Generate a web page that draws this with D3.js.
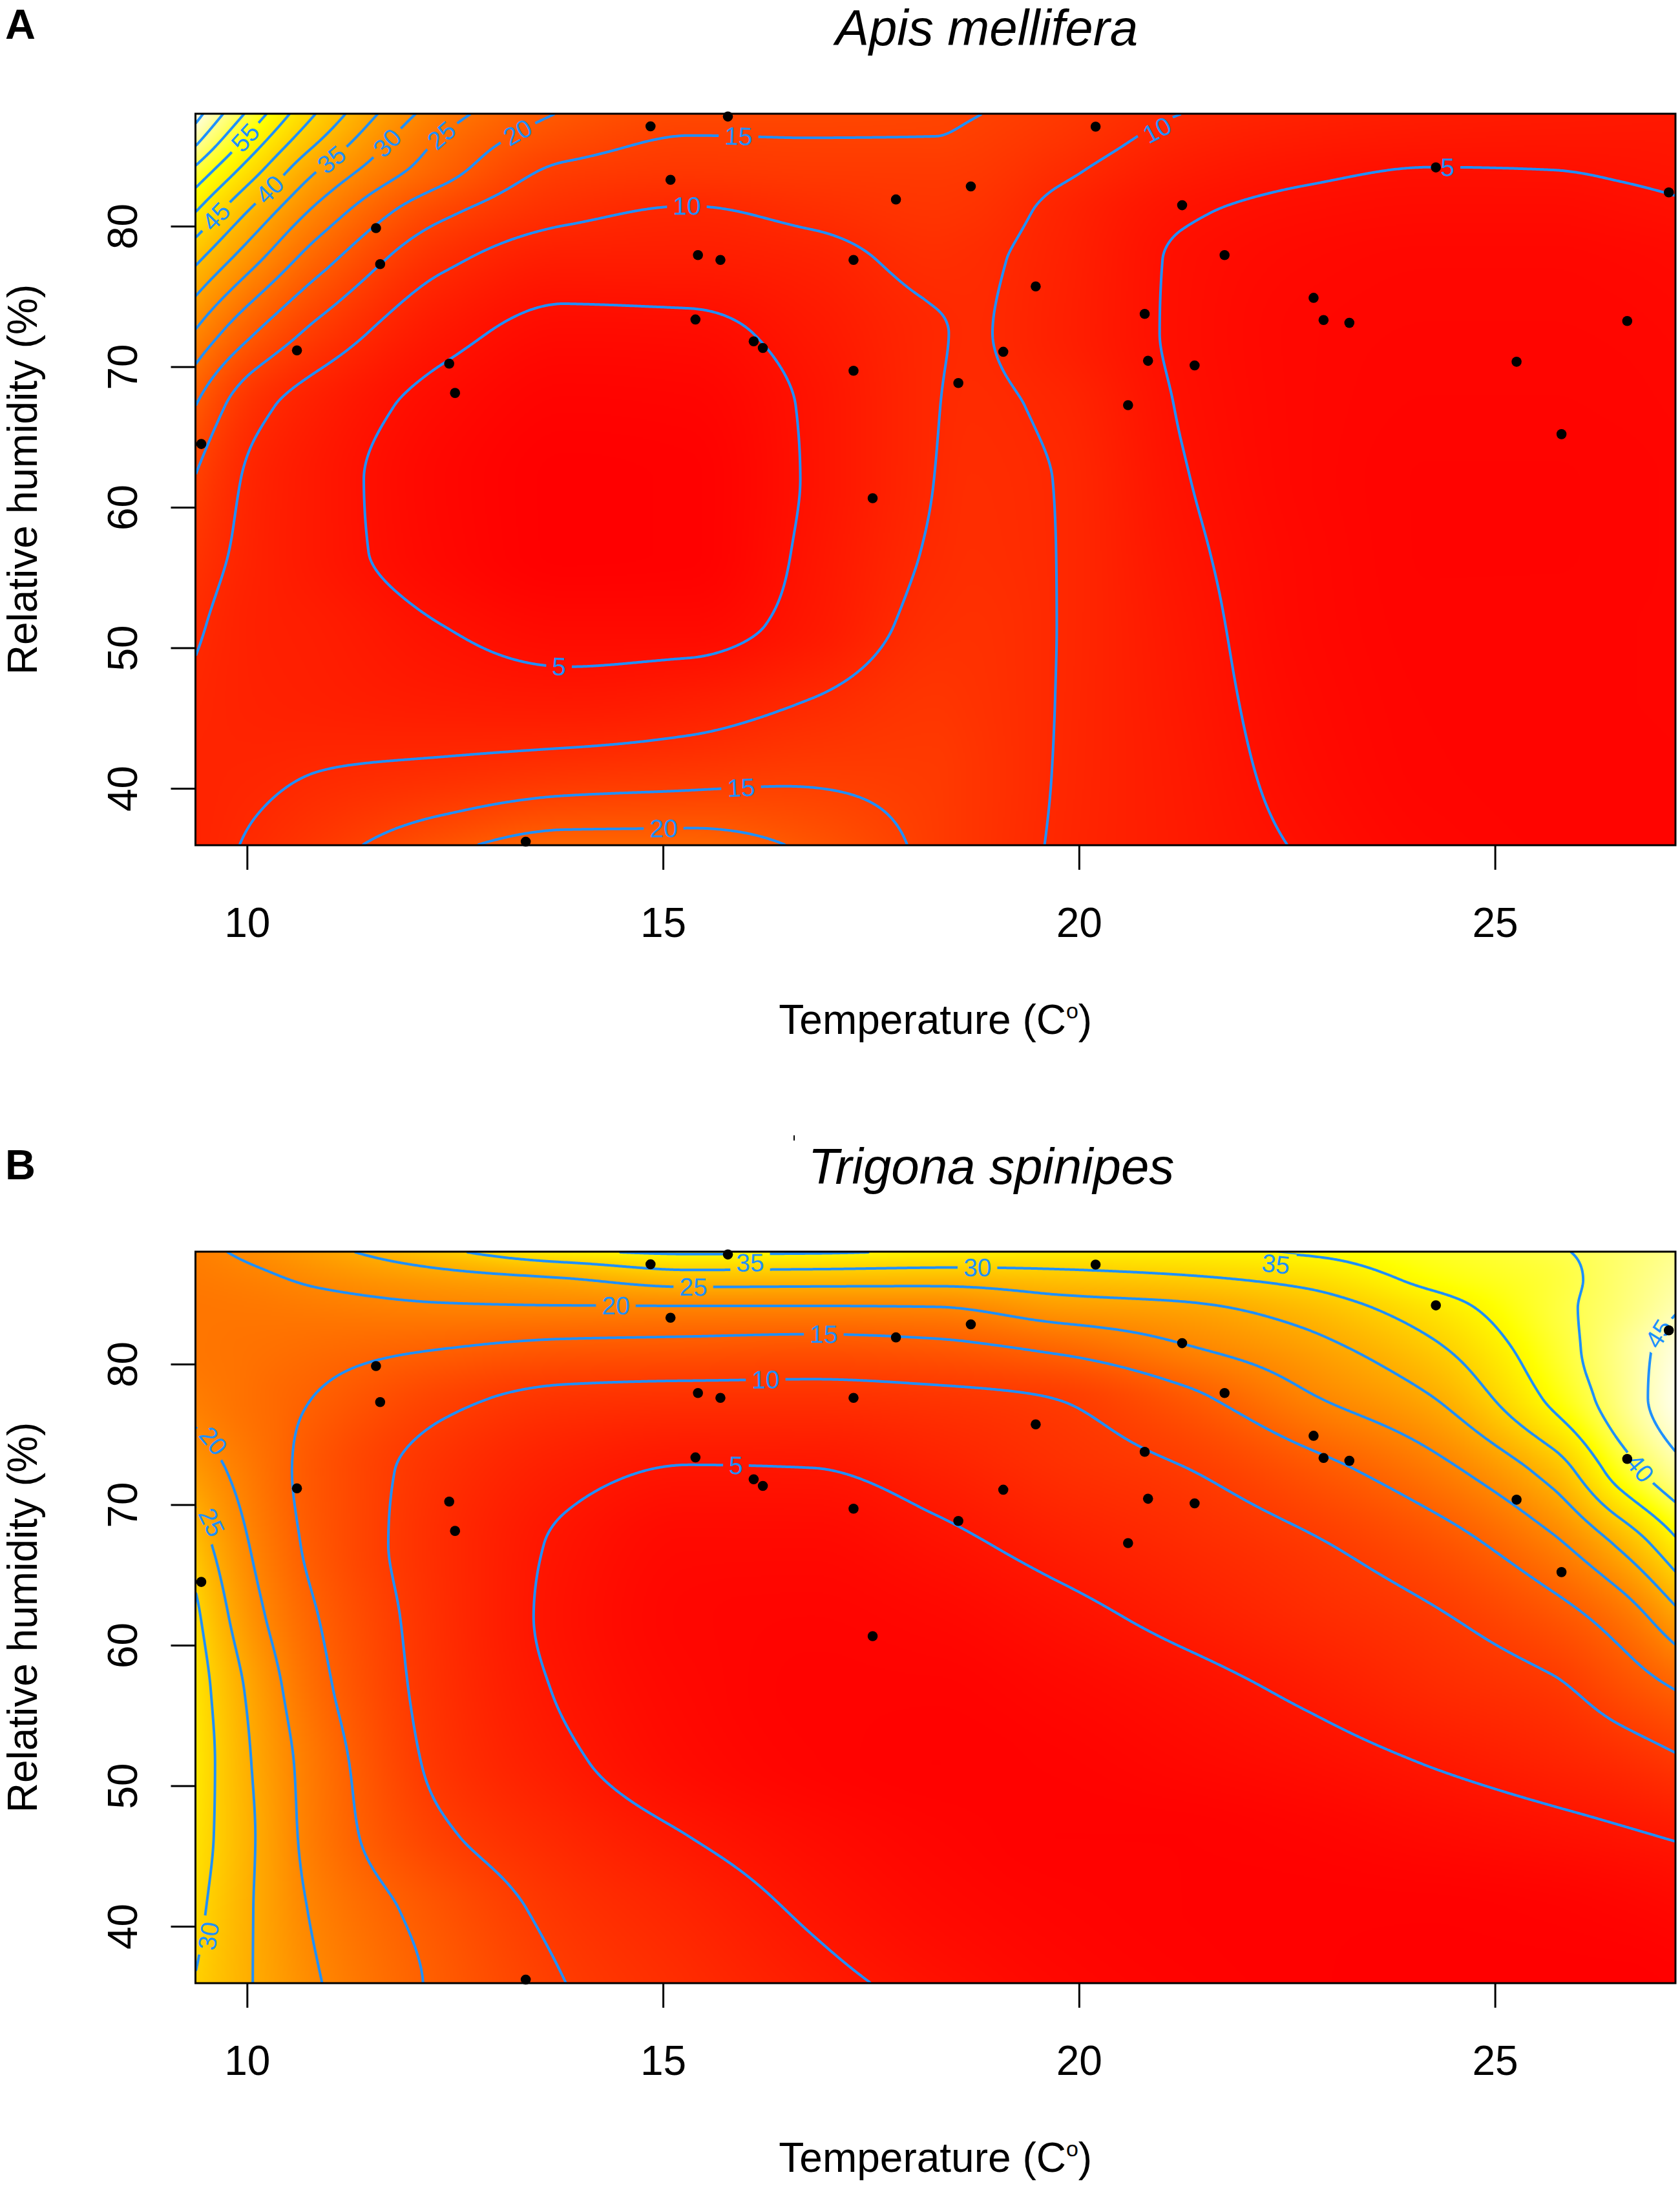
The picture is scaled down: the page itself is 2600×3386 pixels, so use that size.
<!DOCTYPE html>
<html><head><meta charset="utf-8">
<script src="https://cdn.jsdelivr.net/npm/d3@7"></script>
<style>body{margin:0;background:#fff}svg{display:block}</style>
</head><body>
<script>
// ---------- data ----------
const temperature = [14.85, 15.78, 15.09, 17.80, 11.55, 11.60, 15.42, 15.69, 17.29, 10.60, 12.43, 12.50, 15.39, 16.09, 16.20, 17.29, 9.45, 17.52, 13.35, 20.20, 18.70, 21.24, 21.75, 24.29, 27.09, 19.48, 20.79, 19.09, 18.55, 22.94, 22.82, 23.25, 20.83, 21.39, 20.59, 26.59, 25.26, 25.80];
const humidity = [87.1, 87.8, 83.3, 81.9, 79.86, 77.3, 77.94, 77.6, 77.6, 71.16, 70.22, 68.13, 73.36, 71.8, 71.33, 69.71, 64.5, 60.64, 36.2, 87.08, 82.83, 81.49, 77.94, 84.18, 82.4, 75.71, 73.76, 71.06, 68.84, 73.32, 74.9, 73.12, 70.42, 70.09, 67.26, 73.25, 70.35, 65.2];

// grids of the fitted surfaces
const gridTempsApis = [9.38, 10.1, 10.86, 12.35, 13.83, 15.31, 16.79, 18.28, 18.7, 19.76, 21.24, 22.72, 24.21, 25.69, 26.5, 27.17];
const gridTempsTrigona = [9.38, 10.1, 10.86, 12.35, 13.83, 15.31, 16.79, 18.28, 19.76, 21.24, 22.72, 24.21, 25.69, 26.5, 27.17];
const gridHums = [36, 41.2, 46.4, 51.6, 56.8, 62, 67.2, 72.4, 77.6, 81, 84, 86, 88];

const surfaceApis = [
  [8.8, 10.5, 13, 18.5, 22.5, 22.5, 19, 13.8, 12.5, 9.6, 7, 4.7, 3, 2.5, 2.5, 2.5],
  [9, 9.3, 10, 11, 12.2, 13, 14, 13.5, 12.5, 9.8, 6.8, 4, 2.6, 2.4, 2.4, 2.5],
  [9.5, 8.5, 8, 7, 6.5, 7.5, 10, 12.5, 12, 9.9, 6.5, 3.6, 2.5, 2.4, 2.5, 2.6],
  [10.5, 8.3, 7.5, 5, 3.5, 3.5, 6.5, 11.2, 11.5, 9.95, 6.2, 3.3, 2.4, 2.4, 2.5, 2.6],
  [12.3, 8.6, 6.5, 3.2, 1.6, 1.8, 5.8, 10.4, 11, 9.95, 5.7, 3.2, 2.3, 2.3, 2.4, 2.6],
  [14.8, 9.0, 6.5, 3.0, 1.6, 1.8, 5.4, 10.05, 10.8, 9.9, 5.2, 3, 2.3, 2.3, 2.4, 2.6],
  [20, 11.4, 7.8, 3.8, 2.2, 2.4, 5.5, 9.9, 10.5, 9.4, 4.8, 3, 2.5, 2.5, 2.6, 2.8],
  [29.5, 20, 13.5, 6.3, 3.8, 4, 6.5, 9.8, 10.2, 8.2, 4.5, 3, 2.7, 2.7, 2.8, 3],
  [41, 31, 22, 11, 7.5, 7.5, 8.5, 11, 10.7, 8.5, 4.6, 3.4, 3, 3, 3.2, 3.5],
  [50, 38.5, 28.5, 16, 11, 9.6, 11, 12.4, 12, 9.0, 5.4, 4.2, 3.8, 3.8, 4.2, 4.6],
  [59, 46.5, 35, 22, 14.2, 13, 13.5, 13.6, 13.3, 10.8, 7.2, 5.6, 4.9, 5.0, 5.3, 5.6],
  [66, 52, 40, 24.3, 17, 14.6, 14.8, 14.8, 14.3, 12.2, 8.6, 7, 6.2, 6, 6, 6.1],
  [72, 57.5, 44.5, 27.3, 19.6, 16.5, 16.3, 15.7, 15.2, 13.3, 10, 8.5, 7.5, 7, 6.8, 6.5]
];
const surfaceTrigona = [
  [29.8, 24.8, 20.2, 14.2, 10.0, 7.8, 5.8, 4.2, 3.0, 2.4, 2.1, 2.0, 2.0, 2.0, 2.1],
  [31.2, 24.8, 19.2, 13.2, 8.9, 6.7, 4.6, 3.2, 2.5, 2.2, 2.1, 2.1, 2.3, 2.6, 3.0],
  [32.3, 25.0, 18.0, 10.6, 7.2, 5.0, 3.5, 2.6, 2.2, 2.2, 2.5, 3.2, 4.0, 4.6, 5.2],
  [33.0, 24.5, 17.6, 9.0, 5.5, 3.4, 2.5, 2.2, 2.4, 3.0, 3.8, 5.1, 6.6, 7.8, 9.3],
  [32.5, 23.5, 16.2, 8.4, 4.7, 3.0, 2.4, 2.4, 3.0, 4.0, 5.5, 7.5, 9.3, 12.2, 15.0],
  [31.0, 21.2, 15.0, 8.1, 4.3, 2.8, 2.6, 3.0, 4.2, 5.8, 7.6, 9.5, 13.2, 17.2, 23.5],
  [27.5, 19.3, 13.7, 7.9, 4.6, 3.2, 3.2, 4.3, 6.0, 7.6, 9.5, 12.7, 19.0, 25.8, 34.0],
  [22.5, 17.8, 13.3, 8.5, 5.9, 4.8, 4.9, 6.3, 8.2, 9.8, 13.2, 18.1, 27.0, 37.3, 43.5],
  [18.8, 16.8, 14.8, 11.0, 9.0, 8.6, 8.6, 9.1, 10.1, 13.8, 19.4, 24.7, 36.0, 42.4, 47.5],
  [17.8, 17.2, 16.4, 14.9, 13.6, 13.3, 12.9, 13.6, 15.6, 19.3, 23.1, 28.8, 38.0, 42.7, 46.8],
  [17.8, 18.0, 18.5, 19.4, 19.6, 19.6, 19.6, 19.8, 22.7, 24.0, 27.2, 32.7, 38.9, 41.8, 44.7],
  [18.3, 19.2, 20.7, 23.0, 24.6, 27.1, 26.9, 26.7, 27.8, 29.1, 31.3, 36.0, 38.9, 41.5, 43.8],
  [19.0, 21.0, 23.5, 29.0, 34.3, 35.8, 35.6, 34.6, 34.0, 34.3, 35.6, 37.6, 39.6, 41.3, 43.0]
];

const levelsApis = [5, 10, 15, 20, 25, 30, 35, 40, 45, 50, 55, 60, 65, 70];
const levelsTrigona = [5, 10, 15, 20, 25, 30, 35, 40, 45];

// contour labels: [level, temperature, humidity] near where the label sits
const labelsApis = [[5, 13.75, 49.0], [5, 24.43, 83.98], [10, 15.29, 81.55], [10, 20.94, 87.2], [15, 15.91, 87.11], [15, 15.94, 39.84], [20, 15.0, 37.38], [20, 13.25, 86.7], [25, 12.33, 86.43], [30, 11.62, 86.26], [35, 10.97, 85.0], [40, 10.25, 82.74], [45, 9.645, 80.63], [55, 9.99, 86.26]];
const labelsTrigona = [[35, 16.05, 87.45], [25, 15.37, 85.43], [20, 14.43, 83.91], [15, 16.94, 82.23], [10, 16.23, 79.36], [5, 15.88, 73.29], [20, 9.56, 74.64], [25, 9.53, 68.9], [30, 9.5, 39.24], [30, 18.78, 86.78], [35, 22.36, 87.52], [40, 26.66, 72.28], [45, 26.95, 82.2]];

const xTicks = [10, 15, 20, 25];
const yTicks = [40, 50, 60, 70, 80];
const tempDomain = [9.38, 27.17];
const humDomain = [35.95, 88.0];
const panelTitles = ["Apis mellifera", "Trigona spinipes"];
const panelLetters = ["A", "B"];

// ---------- helpers ----------
function pchip(xs, ys) {
  const n = xs.length, h = [], d = [], m = new Array(n);
  for (let i = 0; i < n - 1; i++) { h[i] = xs[i + 1] - xs[i]; d[i] = (ys[i + 1] - ys[i]) / h[i]; }
  for (let i = 1; i < n - 1; i++) {
    if (d[i - 1] * d[i] <= 0) m[i] = 0;
    else { const w1 = 2 * h[i] + h[i - 1], w2 = h[i] + 2 * h[i - 1]; m[i] = (w1 + w2) / (w1 / d[i - 1] + w2 / d[i]); }
  }
  const end = (h0, h1, d0, d1) => {
    let s = ((2 * h0 + h1) * d0 - h0 * d1) / (h0 + h1);
    if (Math.sign(s) !== Math.sign(d0)) s = 0;
    else if (Math.sign(d0) !== Math.sign(d1) && Math.abs(s) > Math.abs(3 * d0)) s = 3 * d0;
    return s;
  };
  m[0] = end(h[0], h[1], d[0], d[1]);
  m[n - 1] = end(h[n - 2], h[n - 3], d[n - 2], d[n - 3]);
  return function (x) {
    if (x < xs[0]) x = xs[0];
    if (x > xs[n - 1]) x = xs[n - 1];
    let i = 0; while (i < n - 2 && x > xs[i + 1]) i++;
    const t = (x - xs[i]) / h[i], t2 = t * t, t3 = t2 * t;
    return (2 * t3 - 3 * t2 + 1) * ys[i] + (t3 - 2 * t2 + t) * h[i] * m[i] + (-2 * t3 + 3 * t2) * ys[i + 1] + (t3 - t2) * h[i] * m[i + 1];
  };
}

function heatColor(t) {
  t = Math.max(0, Math.min(1, t));
  let hue, s;
  if (t <= 0.75) { hue = t / 0.75; s = 1; } else { hue = 1; s = 1 - (t - 0.75) / 0.25 * 0.92; }
  const r = 1, g = (1 - s) + s * hue, b = 1 - s;
  return [Math.round(r * 255), Math.round(g * 255), Math.round(b * 255)];
}

// ---------- layout ----------
const W = 2600, H = 3386;
const plotLeft = 302.5, plotRight = 2593;
const panelTops = [176, 1937], panelBottoms = [1308, 3069];
const FONT = "'Liberation Sans', Arial, Helvetica, sans-serif";
const BLUE = "#1E90FF";

const svg = d3.select("body").append("svg").attr("width", W).attr("height", H)
  .attr("viewBox", `0 0 ${W} ${H}`).style("font-family", FONT);
svg.append("rect").attr("width", W).attr("height", H).attr("fill", "#fff");
const defs = svg.append("defs");

const nx = 1146, ny = 566;

[0, 1].forEach(pi => {
  const top = panelTops[pi], bottom = panelBottoms[pi];
  const surface = pi === 0 ? surfaceApis : surfaceTrigona;
  const gridTemps = pi === 0 ? gridTempsApis : gridTempsTrigona;
  const levels = pi === 0 ? levelsApis : levelsTrigona;
  const labels = pi === 0 ? labelsApis : labelsTrigona;
  const x = d3.scaleLinear().domain(tempDomain).range([plotLeft, plotRight]);
  const y = d3.scaleLinear().domain(humDomain).range([bottom, top]);
  const pw = plotRight - plotLeft, ph = bottom - top;

  // fine grid
  const sx = d3.range(nx).map(i => tempDomain[0] + (i + 0.5) * (tempDomain[1] - tempDomain[0]) / nx);
  const sy = d3.range(ny).map(j => humDomain[1] - (j + 0.5) * (humDomain[1] - humDomain[0]) / ny);
  const rowVals = surface.map(r => { const f = pchip(gridTemps, r); return sx.map(f); });
  const values = new Array(nx * ny);
  for (let i = 0; i < nx; i++) {
    const g = pchip(gridHums, rowVals.map(r => r[i]));
    for (let j = 0; j < ny; j++) values[j * nx + i] = g(sy[j]);
  }
  const [zmin, zmax] = d3.extent(values);

  // heat image
  const canvas = document.createElement("canvas");
  canvas.width = nx; canvas.height = ny;
  const ctx = canvas.getContext("2d");
  const img = ctx.createImageData(nx, ny);
  for (let k = 0; k < nx * ny; k++) {
    const c = heatColor((values[k] - zmin) / (zmax - zmin));
    img.data[4 * k] = c[0]; img.data[4 * k + 1] = c[1]; img.data[4 * k + 2] = c[2]; img.data[4 * k + 3] = 255;
  }
  ctx.putImageData(img, 0, 0);
  svg.append("image").attr("href", canvas.toDataURL()).attr("x", plotLeft).attr("y", top)
    .attr("width", pw).attr("height", ph).attr("preserveAspectRatio", "none");

  // clip
  const clipId = "clip" + pi;
  defs.append("clipPath").attr("id", clipId).append("rect")
    .attr("x", plotLeft).attr("y", top).attr("width", pw).attr("height", ph);

  // contours -> polylines
  const cw = pw / nx, ch = ph / ny;
  const contours = d3.contours().size([nx, ny]).thresholds(levels)(values);
  const onB = p => p[0] <= 0 || p[0] >= nx || p[1] <= 0 || p[1] >= ny;
  const linesByLevel = {};
  contours.forEach(cn => {
    const lines = [];
    cn.coordinates.forEach(poly => poly.forEach(ring => {
      const n = ring.length; const parts = []; let cur = null; let anyB = false;
      for (let i = 0; i < n - 1; i++) {
        const a = ring[i], b = ring[i + 1];
        if (onB(a) && onB(b)) { anyB = true; if (cur) { parts.push(cur); cur = null; } continue; }
        if (!cur) cur = [a];
        cur.push(b);
      }
      if (cur) parts.push(cur);
      if (anyB && parts.length > 1) {
        const f = parts[0], l = parts[parts.length - 1];
        const lp = l[l.length - 1];
        if (f[0][0] === ring[0][0] && f[0][1] === ring[0][1] && lp[0] === ring[n - 1][0] && lp[1] === ring[n - 1][1]) {
          parts.pop(); parts[0] = l.concat(f.slice(1));
        }
      }
      parts.forEach(p => { if (p.length > 1) lines.push(p.map(c => [plotLeft + c[0] * cw, top + c[1] * ch])); });
    }));
    linesByLevel[cn.value] = lines;
  });

  // labels + mask
  const maskId = "mask" + pi;
  const mask = defs.append("mask").attr("id", maskId).attr("maskUnits", "userSpaceOnUse")
    .attr("x", 0).attr("y", 0).attr("width", W).attr("height", H);
  mask.append("rect").attr("x", 0).attr("y", 0).attr("width", W).attr("height", H).attr("fill", "#fff");

  const lineGroup = svg.append("g").attr("mask", `url(#${maskId})`)
    .append("g").attr("clip-path", `url(#${clipId})`);
  const labelGroup = svg.append("g").attr("clip-path", `url(#${clipId})`);
  const lineGen = d3.line();
  levels.forEach(lv => {
    (linesByLevel[lv] || []).forEach(ln => {
      lineGroup.append("path").attr("d", lineGen(ln)).attr("fill", "none")
        .attr("stroke", BLUE).attr("stroke-width", 4).attr("stroke-linejoin", "round");
    });
  });

  labels.forEach(([lv, t, hmd]) => {
    const lines = linesByLevel[lv];
    if (!lines || !lines.length) return;
    const tx = x(t), ty = y(hmd);
    let best = null, bd = Infinity;
    lines.forEach((ln, li) => ln.forEach((p, k) => {
      const dd = (p[0] - tx) ** 2 + (p[1] - ty) ** 2;
      if (dd < bd) { bd = dd; best = [li, k]; }
    }));
    const ln = lines[best[0]];
    const cum = [0];
    for (let k = 1; k < ln.length; k++) cum[k] = cum[k - 1] + Math.hypot(ln[k][0] - ln[k - 1][0], ln[k][1] - ln[k - 1][1]);
    const total = cum[cum.length - 1];
    const at = s => {
      s = Math.max(0, Math.min(total, s));
      let k = 0; while (k < cum.length - 2 && cum[k + 1] < s) k++;
      const seg = cum[k + 1] - cum[k] || 1, u = (s - cum[k]) / seg;
      return [ln[k][0] + u * (ln[k + 1][0] - ln[k][0]), ln[k][1] + u * (ln[k + 1][1] - ln[k][1])];
    };
    const txt = labelGroup.append("text").text(lv).attr("font-size", 39).attr("fill", BLUE)
      .attr("text-anchor", "middle").attr("dominant-baseline", "central");
    const tw = txt.node().getComputedTextLength();
    const L = tw + 18;
    const s0 = cum[best[1]];
    const a = at(s0 - L / 2), b = at(s0 + L / 2), c = at(s0);
    let ang = Math.atan2(b[1] - a[1], b[0] - a[0]) * 180 / Math.PI;
    if (ang > 90) ang -= 180;
    if (ang < -90) ang += 180;
    // keep the label inside the plot region
    const rad = ang * Math.PI / 180;
    const hx = Math.abs(Math.cos(rad)) * tw / 2 + Math.abs(Math.sin(rad)) * 15;
    const hy = Math.abs(Math.sin(rad)) * tw / 2 + Math.abs(Math.cos(rad)) * 15;
    const cx = Math.max(plotLeft + hx + 2, Math.min(plotRight - hx - 2, c[0]));
    const cy = Math.max(top + hy + 2, Math.min(bottom - hy - 2, c[1]));
    txt.attr("transform", `translate(${cx},${cy}) rotate(${ang})`);
    mask.append("rect").attr("x", -L / 2).attr("y", -18).attr("width", L).attr("height", 36)
      .attr("fill", "#000").attr("transform", `translate(${cx},${cy}) rotate(${ang})`);
  });

  // points
  svg.append("g").selectAll("circle").data(temperature.map((t, i) => [t, humidity[i]])).join("circle")
    .attr("cx", d => x(d[0])).attr("cy", d => y(d[1])).attr("r", 7.8).attr("fill", "#000");

  // frame
  svg.append("rect").attr("x", plotLeft).attr("y", top).attr("width", pw).attr("height", ph)
    .attr("fill", "none").attr("stroke", "#000").attr("stroke-width", 3);

  // axes
  const gx = svg.append("g").attr("transform", `translate(0,${bottom})`)
    .call(d3.axisBottom(x).tickValues(xTicks).tickSize(38).tickSizeOuter(0).tickPadding(59).tickFormat(d3.format("d")));
  gx.select(".domain").remove();
  gx.selectAll("line").attr("stroke", "#000").attr("stroke-width", 3);
  gx.selectAll("text").attr("font-size", 64).attr("fill", "#000").attr("font-family", FONT);

  const gy = svg.append("g").attr("transform", `translate(${plotLeft},0)`)
    .call(d3.axisLeft(y).tickValues(yTicks).tickSize(38).tickSizeOuter(0).tickFormat(d3.format("d")));
  gy.select(".domain").remove();
  gy.selectAll("line").attr("stroke", "#000").attr("stroke-width", 3);
  gy.selectAll("text").attr("font-size", 64).attr("fill", "#000").attr("font-family", FONT)
    .attr("x", 0).attr("y", -(plotLeft - 212)).attr("dy", null).attr("text-anchor", "middle")
    .attr("transform", "rotate(-90)");

  // axis titles
  const xl = svg.append("text").attr("x", (plotLeft + plotRight) / 2).attr("y", bottom + 292)
    .attr("text-anchor", "middle").attr("font-size", 64).attr("fill", "#000");
  xl.append("tspan").text("Temperature (C");
  xl.append("tspan").text("o").attr("font-size", 34).attr("dy", -24);
  xl.append("tspan").text(")").attr("dy", 24);

  svg.append("text").attr("transform", `translate(57,${(top + bottom) / 2}) rotate(-90)`)
    .attr("text-anchor", "middle").attr("font-size", 64).attr("fill", "#000").text("Relative humidity (%)");

  // title and letter
  svg.append("text").attr("x", pi === 0 ? 1527 : 1534).attr("y", pi === 0 ? 70 : 1832)
    .attr("text-anchor", "middle").attr("font-size", 78).attr("font-style", "italic").attr("fill", "#000")
    .text(panelTitles[pi]);
  svg.append("text").attr("x", 8).attr("y", pi === 0 ? 60 : 1825).attr("font-size", 65)
    .attr("font-weight", "bold").attr("fill", "#000").text(panelLetters[pi]);
});

// small stray mark left of the second title
svg.append("line").attr("x1", 1229).attr("x2", 1229).attr("y1", 1757).attr("y2", 1765)
  .attr("stroke", "#000").attr("stroke-width", 2);
</script>
</body></html>
